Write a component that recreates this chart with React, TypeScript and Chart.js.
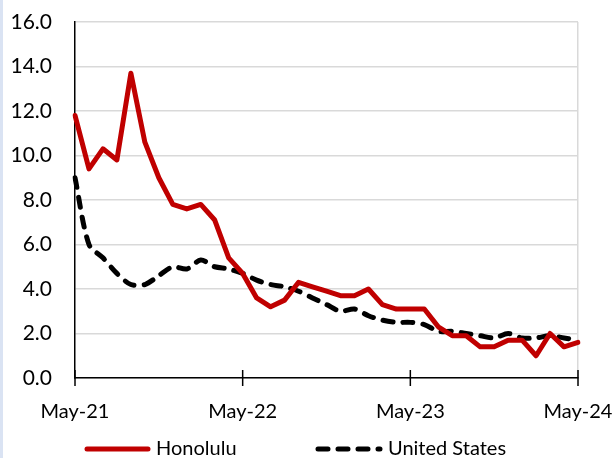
import React, { useEffect, useRef } from "react";
import { Chart, registerables } from "chart.js";

Chart.register(...registerables);

const months: string[] = [
  "May-21", "Jun-21", "Jul-21", "Aug-21", "Sep-21", "Oct-21", "Nov-21", "Dec-21",
  "Jan-22", "Feb-22", "Mar-22", "Apr-22", "May-22", "Jun-22", "Jul-22", "Aug-22",
  "Sep-22", "Oct-22", "Nov-22", "Dec-22", "Jan-23", "Feb-23", "Mar-23", "Apr-23",
  "May-23", "Jun-23", "Jul-23", "Aug-23", "Sep-23", "Oct-23", "Nov-23", "Dec-23",
  "Jan-24", "Feb-24", "Mar-24", "Apr-24", "May-24",
];

const honolulu: number[] = [
  11.8, 9.4, 10.3, 9.8, 13.7, 10.6, 9.0, 7.8, 7.6, 7.8, 7.1, 5.4,
  4.7, 3.6, 3.2, 3.5, 4.3, 4.1, 3.9, 3.7, 3.7, 4.0, 3.3, 3.1,
  3.1, 3.1, 2.3, 1.9, 1.9, 1.4, 1.4, 1.7, 1.7, 1.0, 2.0, 1.4, 1.6,
];

const unitedStates: number[] = [
  9.0, 6.0, 5.4, 4.7, 4.2, 4.2, 4.6, 5.0, 4.9, 5.3, 5.0, 4.9,
  4.7, 4.4, 4.2, 4.1, 3.9, 3.6, 3.3, 3.0, 3.1, 2.8, 2.6, 2.5,
  2.5, 2.4, 2.1, 2.1, 2.0, 1.9, 1.8, 2.0, 1.8, 1.8, 1.9, 1.8, 1.7,
];

const seriesNames: string[] = ["Honolulu", "United States"];
const yTicks = { min: 0, max: 16, step: 2 };

const FONT = "Lato, 'Open Sans', sans-serif";

const crossTicks = {
  id: "crossTicks",
  afterDraw(chart: any) {
    const { ctx, scales, chartArea } = chart;
    const x = scales.x;
    ctx.save();
    ctx.strokeStyle = "#000";
    ctx.lineWidth = 1.5;
    months.forEach((m, i) => {
      if (!m.startsWith("May")) return;
      const px = x.getPixelForValue(i);
      ctx.beginPath();
      ctx.moveTo(px, chartArea.bottom - 8);
      ctx.lineTo(px, chartArea.bottom + 8);
      ctx.stroke();
    });
    ctx.restore();
  },
};

const customLegend = {
  id: "customLegend",
  afterDraw(chart: any) {
    const { ctx } = chart;
    const items = [
      { x: 85, w: 65, y: 449 },
      { x: 316, w: 66, y: 449 },
    ];
    ctx.save();
    chart.data.datasets.forEach((ds: any, i: number) => {
      const it = items[i];
      ctx.strokeStyle = ds.borderColor;
      ctx.lineWidth = ds.borderWidth;
      ctx.lineCap = ds.borderCapStyle || "butt";
      ctx.setLineDash(ds.borderDash || []);
      ctx.beginPath();
      ctx.moveTo(it.x + 2, it.y);
      ctx.lineTo(it.x + it.w - 2, it.y);
      ctx.stroke();
      ctx.setLineDash([]);
      ctx.fillStyle = "#000";
      ctx.font = `20px ${FONT}`;
      ctx.textBaseline = "middle";
      ctx.textAlign = "left";
      ctx.fillText(ds.label, it.x + it.w + 6, it.y);
    });
    ctx.restore();
  },
};

export default function App() {
  const ref = useRef<HTMLCanvasElement>(null);

  useEffect(() => {
    if (!ref.current) return;
    const last = months.length - 1;
    const chart = new Chart(ref.current, {
      type: "line",
      data: {
        labels: months,
        datasets: [
          {
            label: seriesNames[0],
            data: honolulu,
            borderColor: "#c00000",
            backgroundColor: "#c00000",
            borderWidth: 5,
            pointRadius: 0,
            tension: 0,
            borderJoinStyle: "round",
            borderCapStyle: "round",
          },
          {
            label: seriesNames[1],
            data: unitedStates,
            borderColor: "#000000",
            backgroundColor: "#000000",
            borderWidth: 5,
            borderDash: [10, 10],
            borderCapStyle: "round",
            pointRadius: 0,
            tension: 0.3,
          },
        ],
      },
      options: {
        animation: false,
        responsive: false,
        maintainAspectRatio: false,
        layout: { padding: { top: 22, right: 38, bottom: 0, left: 0 } },
        plugins: {
          legend: { display: false },
          tooltip: { enabled: false },
        },
        scales: {
          x: {
            type: "category",
            offset: false,
            afterFit: (s: any) => {
              s.height = 80;
              s.paddingLeft = 0;
              s.paddingRight = 0;
            },
            grid: {
              drawTicks: false,
              color: (c: any) => (c.index === last ? "#d9d9d9" : "rgba(0,0,0,0)"),
              lineWidth: 1.5,
            },
            border: { color: "#000", width: 1.5 },
            ticks: {
              autoSkip: false,
              maxRotation: 0,
              padding: 22,
              color: "#000",
              font: { family: FONT, size: 20 },
              callback: (_v: any, i: number) => (months[i].startsWith("May") ? months[i] : ""),
            },
          },
          y: {
            min: yTicks.min,
            max: yTicks.max,
            afterFit: (s: any) => {
              s.width = 75;
              s.paddingTop = 0;
              s.paddingBottom = 0;
            },
            grid: { color: "#d9d9d9", lineWidth: 1.5, drawTicks: false },
            border: { color: "#000", width: 1.5 },
            ticks: {
              stepSize: yTicks.step,
              padding: 23,
              color: "#000",
              font: { family: FONT, size: 21 },
              callback: (v: any) => Number(v).toFixed(1),
            },
          },
        },
      },
      plugins: [crossTicks, customLegend],
    });
    return () => chart.destroy();
  }, []);

  return (
    <div style={{ position: "fixed", left: 0, top: 0, width: 616, height: 458, background: "#fff" }}>
      <canvas ref={ref} width={616} height={458} style={{ display: "block" }} />
      <div style={{ position: "absolute", left: 0, top: 0, width: 3, height: 458, background: "#dae3f3" }} />
    </div>
  );
}
